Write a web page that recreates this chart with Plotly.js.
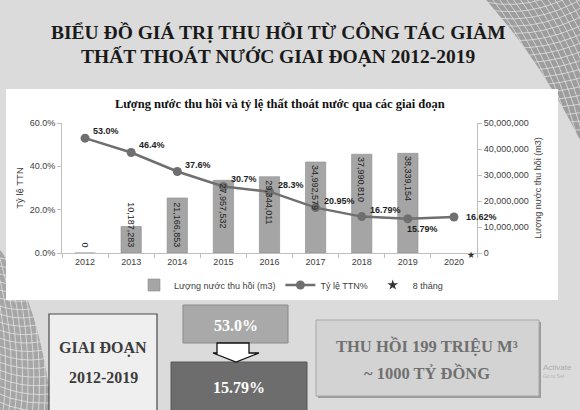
<!DOCTYPE html>
<html><head><meta charset="utf-8">
<script src="https://cdn.plot.ly/plotly-3.0.1.min.js"></script>
<style>html,body{margin:0;padding:0;background:#dbdbdb;}#chart{width:580px;height:410px;}</style>
</head><body><div id="chart"></div>
<script>
// ---- data ----
const years = ['2012','2013','2014','2015','2016','2017','2018','2019','2020'];
const recovered = [0, 10187283, 21166853, 27957532, 29344011, 34992579, 37990810, 38339154, null];
const lossRate = [53.0, 46.4, 37.6, 30.7, 28.3, 20.95, 16.79, 15.79, 16.62];
const lossLabels = ['53.0%','46.4%','37.6%','30.7%','28.3%','20.95%','16.79%','15.79%','16.62%'];
const seriesNames = ['Lượng nước thu hồi (m3)', 'Tỷ lệ TTN%', '8 tháng'];
const leftAxisTitle = 'Tỷ lệ TTN';
const partialYear = '2020';
const mainTitle = ['BIỂU ĐỒ GIÁ TRỊ THU HỒI TỪ CÔNG TÁC GIẢM', 'THẤT THOÁT NƯỚC GIAI ĐOẠN 2012-2019'];
const chartTitle = 'Lượng nước thu hồi và tỷ lệ thất thoát nước qua các giai đoạn';
const periodLines = ['GIAI ĐOẠN', '2012-2019'];
const summaryLines = ['THU HỒI 199 TRIỆU M³', '~ 1000 TỶ ĐỒNG'];

// ---- geometry helpers (page pixels -> paper coords) ----
const W = 580, H = 410, L = 62, R = 103, T = 123, B = 157;
const PW = W - L - R, PH = H - T - B;
const PX = x => (x - L) / PW;
const PY = y => 1 - (y - T) / PH;
const SANS = 'Liberation Sans, Arial, sans-serif';
const SERIF = 'Liberation Serif, Times New Roman, serif';

// ---- decorative mesh background ----
function meshSVG() {
  let s = '<svg xmlns="http://www.w3.org/2000/svg" width="580" height="410" viewBox="0 0 580 410">';
  const tr = 'M486,0 Q540,60 580,140 L580,0 Z';
  const bl = 'M0,250 Q38,295 52,410 L0,410 Z';
  s += '<defs><clipPath id="tr"><path d="' + tr + '"/></clipPath><clipPath id="bl"><path d="' + bl + '"/></clipPath></defs>';
  s += '<path d="' + tr + '" fill="#9d9d9d"/>';
  s += '<g clip-path="url(#tr)" stroke="#f2f2f2" stroke-width="0.8" fill="none" opacity="0.8">';
  for (let i = 0; i < 26; i++) {
    s += '<path d="M' + (440 + i * 7) + ',-5 Q' + (500 + i * 6) + ',60 ' + (520 + i * 6) + ',150"/>';
    s += '<path d="M470,' + (-30 + i * 7) + ' Q530,' + (-10 + i * 7) + ' 590,' + (-60 + i * 9) + '"/>';
  }
  s += '</g>';
  s += '<path d="' + bl + '" fill="#a6a6a6"/>';
  s += '<g clip-path="url(#bl)" stroke="#f2f2f2" stroke-width="0.8" fill="none" opacity="0.8">';
  for (let i = 0; i < 26; i++) {
    s += '<path d="M' + (-60 + i * 6) + ',240 Q' + (-20 + i * 5) + ',330 ' + (-40 + i * 6) + ',420"/>';
    s += '<path d="M-10,' + (230 + i * 8) + ' Q30,' + (250 + i * 8) + ' 70,' + (200 + i * 10) + '"/>';
  }
  s += '</g></svg>';
  return 'data:image/svg+xml;charset=utf-8,' + encodeURIComponent(s);
}

// ---- traces ----
const barTrace = {
  type: 'bar', x: years, y: recovered, yaxis: 'y', name: seriesNames[0],
  width: 0.44, marker: {color: '#a5a5a5', line: {color: '#8c8c8c', width: 0.6}},
  hoverinfo: 'skip'
};
const lineTrace = {
  type: 'scatter', mode: 'lines+markers', x: years, y: lossRate, yaxis: 'y2',
  name: seriesNames[1],
  line: {color: '#6f6f6f', width: 2.5}, marker: {color: '#6f6f6f', size: 9},
  cliponaxis: false, hoverinfo: 'skip'
};
const starTrace = {
  type: 'scatter', mode: 'markers', x: [null], y: [null], yaxis: 'y2', name: seriesNames[2],
  marker: {symbol: 'star', size: 8, color: '#333333'}, hoverinfo: 'skip'
};

// ---- annotations ----
const ann = [];
mainTitle.forEach((t, i) => ann.push({text: '<b>' + t + '</b>', xref: 'paper', yref: 'paper', x: PX(278), y: PY(32 + i * 24),
  xanchor: 'center', yanchor: 'middle', showarrow: false, font: {family: SERIF, size: 19.5, color: '#1a1a1a'}}));
ann.push({text: '<b>' + chartTitle + '</b>', xref: 'paper', yref: 'paper', x: PX(279.5), y: PY(104),
  xanchor: 'center', yanchor: 'middle', showarrow: false, font: {family: SERIF, size: 12.5, color: '#111'}});
const yMax = 5e7;
recovered.forEach((v, i) => {
  if (v === null) return;
  const tall = v > yMax / 2;
  ann.push({text: v.toLocaleString('en-US'), xref: 'x', yref: 'y', x: i, y: tall ? v : 0,
    yanchor: tall ? 'top' : 'bottom', yshift: tall ? -1 : 4, textangle: 90, showarrow: false,
    font: {family: SANS, size: 9, color: '#222'}});
});
// line value labels: above-right of each point; the second-last below; the last to the right
const nPts = lossRate.length;
lossRate.forEach((v, i) => {
  const below = i === nPts - 2, last = i === nPts - 1;
  ann.push({text: '<b>' + lossLabels[i] + '</b>', xref: 'x', yref: 'y2', x: i, y: v,
    xanchor: 'left', yanchor: 'middle', xshift: below ? -3 : (last ? 10 : 6), yshift: below ? -10 : (last ? 0 : 7),
    showarrow: false, font: {family: SANS, size: 9, color: '#1e1e1e'}});
});
ann.push({text: '★', xref: 'x', yref: 'y', x: years.indexOf(partialYear), y: 0, xshift: 17, yshift: -2, showarrow: false,
  font: {family: 'DejaVu Sans', size: 9, color: '#333'}});
periodLines.forEach((t, i) => ann.push({text: '<b>' + t + '</b>', xref: 'paper', yref: 'paper', x: PX(103), y: PY(348 + i * 29),
  xanchor: 'center', yanchor: 'middle', showarrow: false, font: {family: SERIF, size: 16, color: '#3c3c3c'}}));
ann.push({text: '<b>' + lossLabels[0] + '</b>', xref: 'paper', yref: 'paper', x: PX(236), y: PY(325),
  xanchor: 'center', yanchor: 'middle', showarrow: false, font: {family: SERIF, size: 16, color: '#ffffff'}});
ann.push({text: '<b>' + lossLabels[7] + '</b>', xref: 'paper', yref: 'paper', x: PX(239), y: PY(387),
  xanchor: 'center', yanchor: 'middle', showarrow: false, font: {family: SERIF, size: 16, color: '#ffffff'}});
summaryLines.forEach((t, i) => ann.push({text: '<b>' + t + '</b>', xref: 'paper', yref: 'paper', x: PX(427), y: PY(346 + i * 27),
  xanchor: 'center', yanchor: 'middle', showarrow: false, font: {family: SERIF, size: 16.5, color: '#707070'}}));
ann.push({text: 'Activate', xref: 'paper', yref: 'paper', x: PX(541), y: PY(367), xanchor: 'left', yanchor: 'middle',
  showarrow: false, font: {family: SANS, size: 8, color: '#ababab'}});
ann.push({text: 'Go to Set', xref: 'paper', yref: 'paper', x: PX(541), y: PY(376), xanchor: 'left', yanchor: 'middle',
  showarrow: false, font: {family: SANS, size: 5, color: '#b3b3b3'}});

// ---- shapes ----
const rect = (x0, y0, x1, y1, fill, line, lw) => ({type: 'rect', xref: 'paper', yref: 'paper', x0: PX(x0), x1: PX(x1), y0: PY(y1), y1: PY(y0),
  fillcolor: fill, line: {color: line, width: lw}, layer: 'below'});
const pathP = pts => 'M' + pts.map(p => PX(p[0]) + ',' + PY(p[1])).join(' L') + ' Z';
const shapes = [
  rect(6, 89, 558, 300, '#ffffff', '#ffffff', 0),
  rect(49, 314, 157, 414, '#efefef', '#4a4a4a', 1.2),
  rect(183, 305, 288, 343, '#a9a9a9', '#8a8a8a', 1),
  rect(171, 362, 307, 414, '#6d6d6d', '#585858', 1),
  rect(318, 322, 541, 398, '#9a9a9a', '#9a9a9a', 0),
  rect(316, 320, 539, 396, '#d3d3d3', '#a8a8a8', 1),
  {type: 'path', xref: 'paper', yref: 'paper', layer: 'above',
   path: pathP([[217,343],[249,343],[249,353],[259,353],[236,362],[213,353],[217,353]]),
   fillcolor: '#ffffff', line: {color: '#111', width: 1.3}}
];

const axisFont = {family: SANS, size: 9, color: '#404040'};
const layout = {
  width: W, height: H, margin: {l: L, r: R, t: T, b: B, pad: 0},
  paper_bgcolor: '#dbdbdb', plot_bgcolor: 'rgba(0,0,0,0)',
  font: {family: SANS},
  showlegend: true,
  legend: {orientation: 'h', x: PX(134), xanchor: 'left', y: PY(285), yanchor: 'middle', itemwidth: 30,
    font: {family: SANS, size: 9, color: '#404040'}, bgcolor: 'rgba(0,0,0,0)'},
  xaxis: {type: 'category', range: [-0.5, years.length - 0.5], showline: true, linecolor: '#bfbfbf', linewidth: 1,
    ticks: 'outside', tickson: 'boundaries', ticklen: 4, tickcolor: '#bfbfbf', tickfont: axisFont, showgrid: false, zeroline: false},
  yaxis: {side: 'right', range: [0, yMax], dtick: 1e7, tickformat: ',d', showline: true, linecolor: '#bfbfbf', ticks: 'outside',
    ticklen: 4, tickcolor: '#bfbfbf', tickfont: axisFont, showgrid: false, zeroline: false,
    title: {text: seriesNames[0], font: {family: SANS, size: 9, color: '#404040'}, standoff: 6}},
  yaxis2: {overlaying: 'y', side: 'left', range: [0, 60], dtick: 20, tickformat: '.1f', ticksuffix: '%', showline: true,
    linecolor: '#bfbfbf', ticks: 'outside', ticklen: 4, tickcolor: '#bfbfbf', tickfont: axisFont, showgrid: false, zeroline: false,
    title: {text: leftAxisTitle, font: {family: SANS, size: 9.5, color: '#404040'}, standoff: 4}},
  images: [{source: meshSVG(), xref: 'paper', yref: 'paper', x: PX(0), y: PY(0), sizex: W / PW, sizey: H / PH,
    xanchor: 'left', yanchor: 'top', sizing: 'stretch', layer: 'below'}],
  shapes: shapes,
  annotations: ann
};
Plotly.newPlot('chart', [barTrace, lineTrace, starTrace], layout, {displayModeBar: false, staticPlot: true});
</script></body></html>
